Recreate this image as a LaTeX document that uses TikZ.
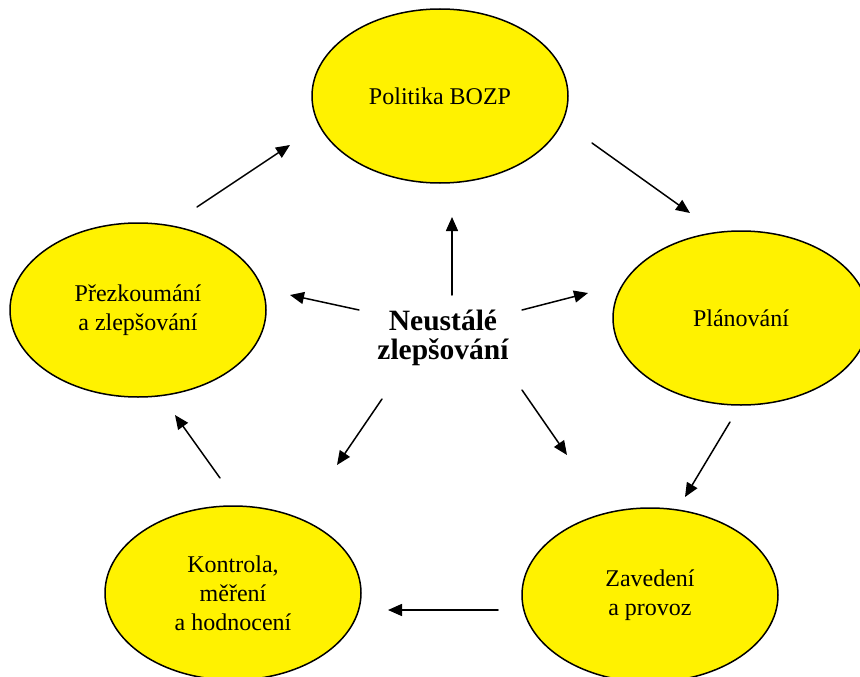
\documentclass[tikz,border=0pt]{standalone}
\usepackage{fontspec}
\setmainfont{Liberation Serif}
\usetikzlibrary{shapes.geometric,arrows.meta}

\tikzset{
  stage/.style={ellipse, draw=black, line width=1.5pt, fill=yellow,
    minimum width=256pt, minimum height=174pt, inner sep=0pt,
    align=center, font=\fontsize{24}{29}\selectfont},
  arr/.style={line width=1.5pt, -{Triangle[length=14pt,width=12pt]}}
}

\begin{document}
\begin{tikzpicture}[x=1pt, y=-1pt, line cap=round, line join=round]
  \clip (0,0) rectangle (860,677);
  \fill[white] (0,0) rectangle (860,677);
  % stages of the cycle
  \node[stage] (pol)   at (440,96)  {Politika BOZP};
  \node[stage] (plan)  at (741,318) {Plánování};
  \node[stage] (zav)   at (650,595) {Zavedení\\a provoz};
  \node[stage] (kontr) at (233,593) {Kontrola,\\měření\\a hodnocení};
  \node[stage] (prez)  at (138,310) {Přezkoumání\\a zlepšování};
  \node[align=center, font=\bfseries\fontsize{29.5}{29}\selectfont]
    (cen) at (443,338) {Neustálé\\zlepšování};
  % outer cycle
  \draw[arr] ([shift={(59,-103)}]prez.center) -- ([shift={(-150,49)}]pol.center);
  \draw[arr] ([shift={(152,47)}]pol.center) -- ([shift={(-51,-105)}]plan.center);
  \draw[arr] ([shift={(-11,104)}]plan.center) -- ([shift={(35,-98)}]zav.center);
  \draw[arr] ([shift={(-152,15)}]zav.center) -- ([shift={(155,17)}]kontr.center);
  \draw[arr] ([shift={(-13,-115)}]kontr.center) -- ([shift={(37,105)}]prez.center);
  % from the centre
  \draw[arr] ([shift={(9,-43)}]cen.center) -- ([shift={(12,121)}]pol.center);
  \draw[arr] ([shift={(-84,-28)}]cen.center) -- ([shift={(152,-15)}]prez.center);
  \draw[arr] ([shift={(79,-28)}]cen.center) -- ([shift={(-153,-25)}]plan.center);
  \draw[arr] ([shift={(-61,61)}]cen.center) -- ([shift={(104,-128)}]kontr.center);
  \draw[arr] ([shift={(79,52)}]cen.center) -- ([shift={(-83,-140)}]zav.center);
\end{tikzpicture}
\end{document}
